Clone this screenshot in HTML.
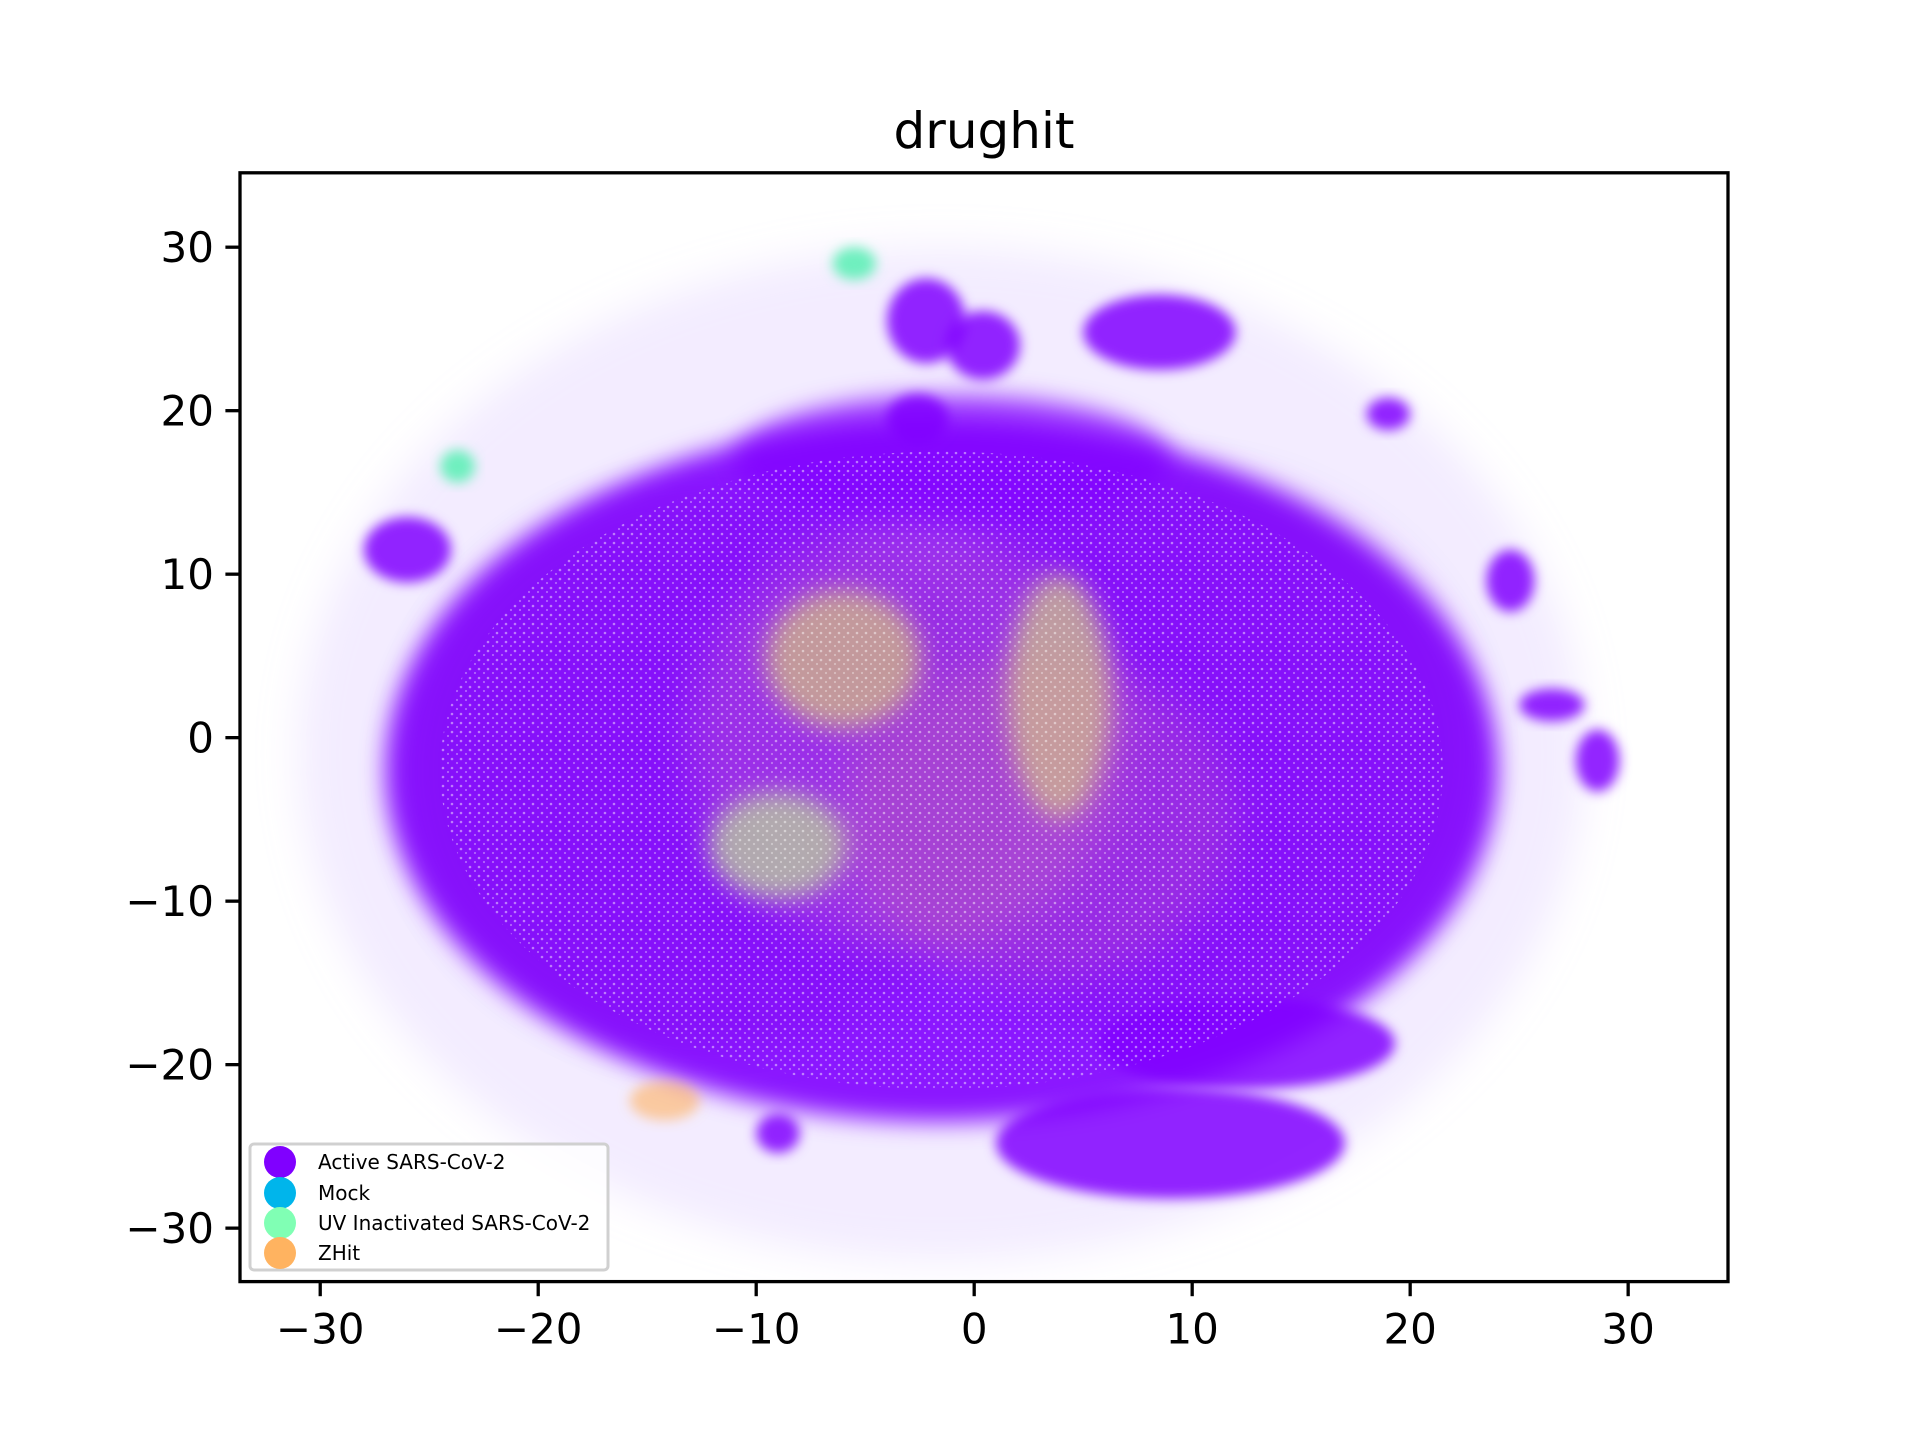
<!DOCTYPE html>
<html><head><meta charset="utf-8"><style>
html,body{margin:0;padding:0;background:#fff;}
svg{display:block;font-family:"DejaVu Sans","Liberation Sans",sans-serif;}
</style></head><body>
<svg id="chart" width="1920" height="1440" viewBox="0 0 1920 1440" xmlns="http://www.w3.org/2000/svg">
<defs>
<clipPath id="axclip"><rect x="240" y="172.8" width="1488" height="1108.8"/></clipPath>
<filter id="soft" x="-30%" y="-30%" width="160%" height="160%"><feGaussianBlur stdDeviation="6"/></filter>
<filter id="mid" x="-30%" y="-30%" width="160%" height="160%"><feGaussianBlur stdDeviation="12"/></filter>
<filter id="softer" x="-30%" y="-30%" width="160%" height="160%"><feGaussianBlur stdDeviation="20"/></filter>
<pattern id="speck" width="9" height="9" patternUnits="userSpaceOnUse">
<rect width="9" height="9" fill="none"/>
<circle cx="2" cy="3" r="1.3" fill="#fff" opacity="0.45"/>
<circle cx="7" cy="7" r="1.1" fill="#fff" opacity="0.35"/>
</pattern>
</defs>
<rect width="1920" height="1440" fill="#fff"/>
<text x="984" y="148" font-size="50" text-anchor="middle" fill="#000">drughit</text>
<g id="plot" clip-path="url(#axclip)"></g>
<rect x="240" y="172.8" width="1488" height="1108.8" fill="none" stroke="#000" stroke-width="3.3"/>
<g id="xticks"></g>
<g id="yticks"></g>
<g>
<rect x="250" y="1144" width="358" height="126" rx="4" fill="#fff" fill-opacity="0.8" stroke="#d0d0d0" stroke-width="3"/>
<g><circle cx="280" cy="1162" r="16" fill="#8000ff"/><text x="318" y="1169" font-size="20">Active SARS-CoV-2</text></g>
<g><circle cx="280" cy="1193" r="16" fill="#00b5eb"/><text x="318" y="1200" font-size="20">Mock</text></g>
<g><circle cx="280" cy="1223" r="16" fill="#80ffb4"/><text x="318" y="1230" font-size="20">UV Inactivated SARS-CoV-2</text></g>
<g><circle cx="280" cy="1253" r="16" fill="#ffb360"/><text x="318" y="1260" font-size="20">ZHit</text></g>
</g>
</svg>
<script>
const xTicks=[-30,-20,-10,0,10,20,30];
const yTicks=[-30,-20,-10,0,10,20,30];
const xTickLabels=["\u221230","\u221220","\u221210","0","10","20","30"];
const yTickLabels=["\u221230","\u221220","\u221210","0","10","20","30"];
// blob clusters (data coords)
const blobCx=[-1.5,-1.5,-12,9,-1,12.5,9,  -2.2,0.4,8.5,-2.6,-26,24.6,26.5,28.6,-9,19, -3,-6,3.9,-9,  -5.5,-23.7,-14.2,3];
const blobCy=[-1,-2,-2,-1,17,-18.7,-24.8, 25.5,24,24.8,19.5,11.5,9.6,2,-1.4,-24.2,19.8, 0,4.8,2.5,-6.6,  29,16.6,-22.2,-5];
const blobRx=[29.5,25.5,14,14,10,6.8,8, 1.8,1.7,3.5,1.4,2,1.1,1.5,1,1,1, 10,3.6,2.4,3.2,  1.0,0.8,1.6,9];
const blobRy=[31,21.5,17,17,4,2.8,3.4, 2.6,2.1,2.3,1.5,2,1.9,1,1.9,1.2,1, 13,4.3,7.5,3.3,  1.0,1.0,1.2,10];
const blobColor=["#d8c0ff","#8000ff","#7a00f0","#7a00f0","#8000ff","#8000ff","#8000ff", "#8000ff","#8000ff","#8000ff","#8000ff","#8000ff","#8000ff","#8000ff","#8000ff","#8000ff","#8000ff", "#d88ab0","#cdb48a","#c8b890","#b8c8a0",  "#60f0b8","#60f0b8","#ffb360","#e09890"];
const blobOpacity=[0.3,0.9,0.3,0.3,0.7,0.85,0.85, 0.85,0.85,0.85,0.85,0.85,0.85,0.85,0.85,0.85,0.85, 0.25,0.8,0.8,0.8,  0.9,0.9,0.6,0.2];
const blobSoft=["softer","mid","softer","softer","mid","soft","soft","soft","soft","soft","soft","soft","soft","soft","soft","soft","soft","softer","mid","mid","mid","soft","soft","soft","softer"];

const X0=240,X1=1728,Y0=172.8,Y1=1281.6;
const xMin=-33.68,xMax=34.58,yMin=-33.27,yMax=34.55;
function sx(v){return X0+(v-xMin)/(xMax-xMin)*(X1-X0);}
function sy(v){return Y1-(v-yMin)/(yMax-yMin)*(Y1-Y0);}
const NS="http://www.w3.org/2000/svg";
const plot=document.getElementById('plot');
for(let i=0;i<blobCx.length;i++){
  const e=document.createElementNS(NS,'ellipse');
  
  
  e.setAttribute('cx',sx(blobCx[i]));e.setAttribute('cy',sy(blobCy[i]));
  e.setAttribute('rx',Math.abs(sx(blobRx[i])-sx(0)));e.setAttribute('ry',Math.abs(sy(0)-sy(blobRy[i])));
  e.setAttribute('fill',blobColor[i]);e.setAttribute('fill-opacity',blobOpacity[i]);
  e.setAttribute('filter','url(#'+blobSoft[i]+')');
  plot.appendChild(e);
}
const sp=document.createElementNS(NS,'ellipse');


sp.setAttribute('cx',sx(-1.5));sp.setAttribute('cy',sy(-2));
sp.setAttribute('rx',sx(23)-sx(0));sp.setAttribute('ry',sy(0)-sy(19.5));
sp.setAttribute('fill','url(#speck)');
plot.appendChild(sp);

const xg=document.getElementById('xticks');
xTicks.forEach((t,i)=>{
  const l=document.createElementNS(NS,'line');
  
  
  l.setAttribute('x1',sx(t));l.setAttribute('x2',sx(t));l.setAttribute('y1',Y1);l.setAttribute('y2',Y1+14.6);
  l.setAttribute('stroke','#000');l.setAttribute('stroke-width','3.3');xg.appendChild(l);
  const tx=document.createElementNS(NS,'text');
  
  
  tx.setAttribute('x',sx(t));tx.setAttribute('y',Y1+62);tx.setAttribute('font-size','42');tx.setAttribute('text-anchor','middle');
  tx.textContent=xTickLabels[i];xg.appendChild(tx);
});
const yg=document.getElementById('yticks');
yTicks.forEach((t,i)=>{
  const l=document.createElementNS(NS,'line');
  
  
  l.setAttribute('x1',X0-14.6);l.setAttribute('x2',X0);l.setAttribute('y1',sy(t));l.setAttribute('y2',sy(t));
  l.setAttribute('stroke','#000');l.setAttribute('stroke-width','3.3');yg.appendChild(l);
  const tx=document.createElementNS(NS,'text');
  
  
  tx.setAttribute('x',X0-26);tx.setAttribute('y',sy(t)+15);tx.setAttribute('font-size','42');tx.setAttribute('text-anchor','end');
  tx.textContent=yTickLabels[i];yg.appendChild(tx);
});
</script>
</body></html>
